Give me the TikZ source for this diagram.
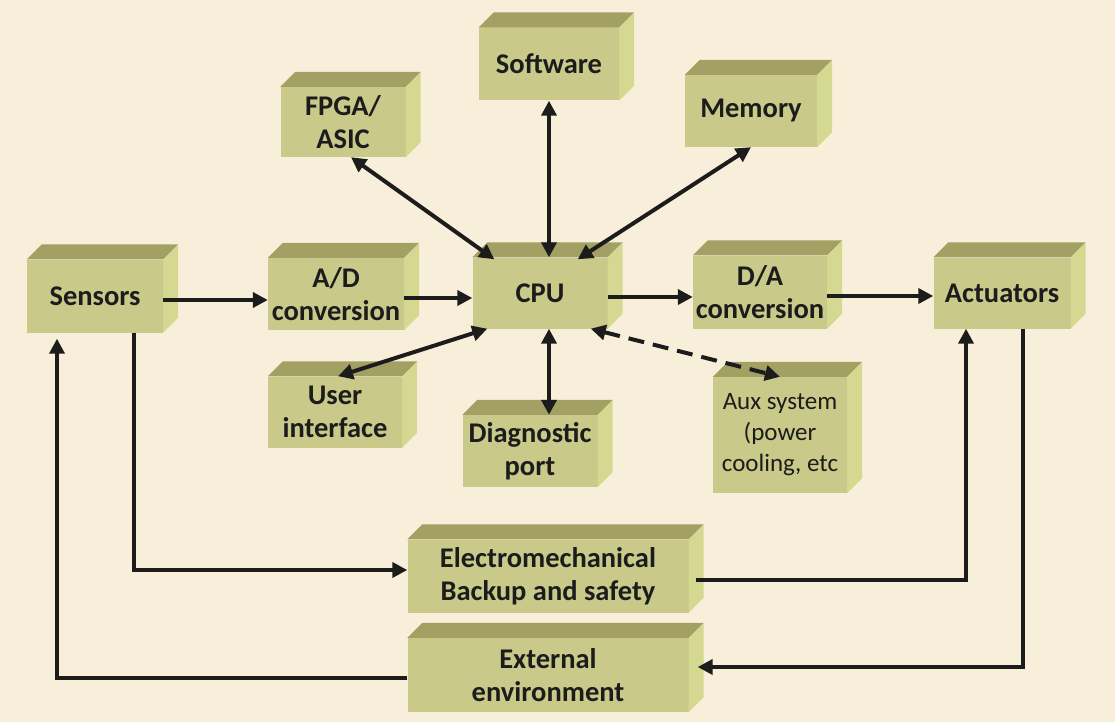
\documentclass[tikz,border=0pt]{standalone}
\usepackage{fontspec}
\setmainfont{Carlito}
\usetikzlibrary{arrows.meta}

\definecolor{paper}{HTML}{F8EFDA}
\definecolor{frontc}{HTML}{C9C98A}
\definecolor{topc}{HTML}{A3A064}
\definecolor{sidec}{HTML}{D5D891}
\definecolor{ink}{HTML}{1C1C1C}

\tikzset{
  block/.style={fill=frontc, inner sep=0pt, align=center, text=ink,
    font=\fontsize{28.5}{33}\selectfont\bfseries},
  smallblock/.style={block, font=\fontsize{25}{31}\selectfont},
  conn/.style={draw=ink, line width=4pt, ->},
  dbl/.style={draw=ink, line width=4pt, <->},
  dbldash/.style={dbl, dash pattern=on 16pt off 9pt},
}

\begin{document}
\begin{tikzpicture}[x=1pt, y=-1pt, >={Triangle[length=15pt,width=15pt]}]
  % page and parchment background
  \useasboundingbox (0,0) rectangle (1115,722);
  \fill[paper] (0,0) rectangle (1115,722);

  % front faces of the blocks
  \node[block, minimum width=136pt, minimum height=73pt] (sens) at (95,296) {Sensors};
  \node[block, minimum width=136pt, minimum height=72pt] (ad) at (336,294) {A/D\\conversion};
  \node[block, minimum width=135pt, minimum height=71pt] (cpu) at (540,293) {CPU};
  \node[block, minimum width=134pt, minimum height=73pt] (da) at (760,292) {D/A\\conversion};
  \node[block, minimum width=137pt, minimum height=71pt] (act) at (1002,293) {Actuators};
  \node[block, minimum width=125pt, minimum height=70pt] (fpga) at (343,122) {FPGA/\\ASIC};
  \node[block, minimum width=140pt, minimum height=73pt] (soft) at (549,64) {Software};
  \node[block, minimum width=132pt, minimum height=72pt] (mem) at (751,111) {Memory};
  \node[block, minimum width=134pt, minimum height=71pt] (ui) at (335,412) {User\\interface};
  \node[block, minimum width=135pt, minimum height=72pt] (diag) at (530,451) {Diagnostic\\port};
  \node[smallblock, minimum width=134pt, minimum height=116pt] (aux) at (780,435) {Aux system\\(power\\cooling, etc};
  \node[block, minimum width=281pt, minimum height=73pt] (emech) at (548,576) {Electromechanical\\Backup and safety};
  \node[block, minimum width=281pt, minimum height=74pt] (ext) at (548,675) {External\\environment};

  % top and side faces give each block its depth
  \foreach \n in {sens,ad,cpu,da,act,fpga,soft,mem,ui,diag,aux,emech,ext}{
    \fill[topc] (\n.north west) -- ([shift={(15pt,15pt)}]\n.north west)
      -- ([shift={(15pt,15pt)}]\n.north east) -- (\n.north east) -- cycle;
    \fill[sidec] (\n.north east) -- ([shift={(15pt,15pt)}]\n.north east)
      -- ([shift={(15pt,15pt)}]\n.south east) -- (\n.south east) -- cycle;
  }

  % signal chain
  \draw[conn] ([yshift=-4pt]sens.east) -- ([yshift=-4pt]sens.east -| ad.west);
  \draw[conn] ([yshift=-4pt]ad.east) -- ([yshift=-4pt]ad.east -| cpu.west);
  \draw[conn] ([yshift=-4pt]cpu.east) -- ([yshift=-4pt]cpu.east -| da.west);
  \draw[conn] ([yshift=-4pt]da.east) -- ([yshift=-4pt]da.east -| act.west);

  % links around the CPU
  \draw[dbl] ([xshift=8pt]fpga.south) -- ([xshift=22pt,yshift=-2pt]cpu.north west);
  \draw[dbl] (soft.south) -- (soft.south |- cpu.north);
  \draw[dbl] (mem.south) -- ([xshift=-30pt,yshift=-2pt]cpu.north east);
  \draw[dbl] ([xshift=3pt]ui.north) -- ([xshift=15pt]cpu.south west);
  \draw[dbl] (cpu.south -| soft.south) -- (diag.north -| soft.south);
  \draw[dbldash] ([xshift=-17pt]cpu.south east) -- (aux.north);

  % backup and environment loops
  \draw[conn] ([xshift=39pt]sens.south) |- ([yshift=6pt]emech.west);
  \draw[conn] ([xshift=7pt,yshift=-4pt]emech.east) -| ([xshift=-36pt]act.south);
  \draw[conn] ([xshift=21pt]act.south) |- ([xshift=9pt,yshift=8pt]ext.east);
  \draw[conn] ([yshift=-3pt]ext.west) -| ([xshift=-38pt,yshift=-6pt]sens.south);
\end{tikzpicture}
\end{document}
